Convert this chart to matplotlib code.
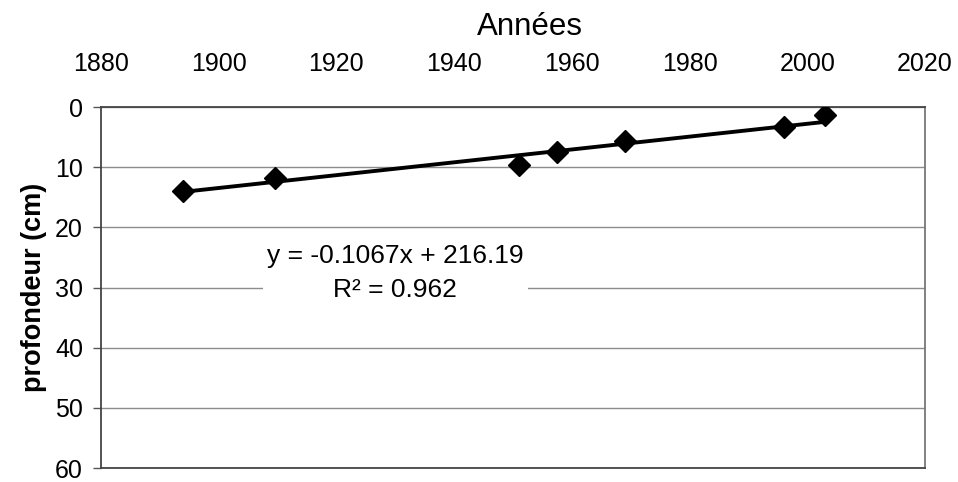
import matplotlib

matplotlib.use("Agg")
import matplotlib.pyplot as plt
import numpy as np

plt.rcParams["font.family"] = ["Liberation Sans", "DejaVu Sans"]

# ── Data ──────────────────────────────────────────────────────────────────────
years = [1894, 1909.5, 1951, 1957.5, 1969, 1996, 2003]
depths = [14.0, 11.8, 9.6, 7.5, 5.6, 3.4, 1.3]

slope = -0.1067
intercept = 216.19
r2 = 0.962

x_ticks = [1880, 1900, 1920, 1940, 1960, 1980, 2000, 2020]
y_ticks = [0, 10, 20, 30, 40, 50, 60]

# ── Figure ────────────────────────────────────────────────────────────────────
fig = plt.figure(figsize=(9.58, 4.82), dpi=100)
ax = fig.add_axes([0.1054, 0.029, 0.8602, 0.749])

ax.set_xlim(1880, 2020)
ax.set_ylim(60, 0)
ax.xaxis.tick_top()
ax.set_xticks(x_ticks)
ax.set_yticks(y_ticks)
ax.tick_params(axis="x", length=0, pad=22, labelsize=18)
ax.tick_params(axis="y", length=6, width=1, color="#555555", pad=7, labelsize=18)

ax.grid(axis="y", color="#8c8c8c", linewidth=1)
ax.set_axisbelow(True)
for side in ["left", "top", "bottom"]:
    ax.spines[side].set_color("#444444")
    ax.spines[side].set_linewidth(1.3)
ax.spines["right"].set_color("#777777")
ax.spines["right"].set_linewidth(1.3)

# trendline from the fitted equation
xs = np.array([min(years), max(years)])
ax.plot(xs, slope * xs + intercept, color="black", linewidth=2.8, zorder=3)
ax.plot(years, depths, linestyle="none", marker="D", markersize=11.5,
        color="black", zorder=4)

ax.text(1930, 27.6, f"y = {slope}x + {intercept}\nR² = {r2}",
        ha="center", va="center", multialignment="center", fontsize=19,
        linespacing=1.5,
        bbox=dict(facecolor="white", edgecolor="none", pad=3), zorder=2.5)

ax.set_ylabel("profondeur (cm)", fontsize=19.5, fontweight="bold", labelpad=6)
fig.text(530 / 958, 1 - 27 / 482, "Années", ha="center", va="center", fontsize=22.5)

fig.savefig("out.png", dpi=100)
